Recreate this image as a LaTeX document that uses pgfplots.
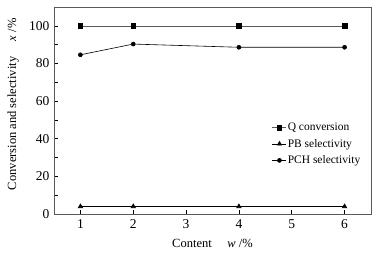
\documentclass[border=0pt]{standalone}
\usepackage{fontspec}
\setmainfont{Liberation Serif}
\usepackage{pgfplots}
\pgfplotsset{compat=1.18}
\begin{document}
\begin{tikzpicture}
\begin{axis}[
  at={(0,0)}, anchor=south west,
  scale only axis,
  width=317pt, height=207pt,
  xmin=0.5, xmax=6.5, ymin=0, ymax=110,
  xtick={1,2,3,4,5,6},
  ytick={0,20,40,60,80,100},
  minor ytick={10,30,50,70,90},
  tick align=inside,
  xtick pos=bottom, ytick pos=left,
  axis line style={gray!70!black, line width=0.6pt},
  major tick style={black, line width=0.5pt},
  minor tick style={black, line width=0.5pt},
  major tick length=4pt, minor tick length=4pt,
  tick label style={font=\fontsize{13.5}{15}\selectfont},
  yticklabel style={xshift=-1pt},
  xticklabel style={yshift=-2pt},
  /pgf/number format/assume math mode=true,
  xlabel={Content\quad\ \textit{w} /\%},
  ylabel={Conversion and selectivity\quad\ \textit{x} /\%},
  label style={font=\fontsize{12.5}{14}\selectfont},
  xlabel style={at={(axis description cs:0.5,-0.14)}, anchor=center},
  ylabel style={at={(axis description cs:-0.129,0.53)}, anchor=center, rotate=0},
  legend style={draw=none, fill=none, at={(0.97,0.445)}, anchor=north east,
    font=\fontsize{11.5}{13}\selectfont, row sep=5pt, inner sep=0pt,
    nodes={inner sep=1pt}},
  legend image code/.code={
    \draw[#1, mark=none] (0pt,0pt) -- (14pt,0pt);
    \draw[#1, only marks] plot coordinates {(7pt,0pt)};
  },
  legend cell align=left,
  every axis plot/.append style={line width=0.6pt},
]
\addplot[gray!70!black, mark=square*, mark size=2.3pt, mark options={black}] coordinates {(1,100) (2,100) (4,100) (6,100)};
\addlegendentry{Q conversion}
\addplot[black, mark=triangle*, mark size=2.5pt] coordinates {(1,4) (2,4) (4,4) (6,4)};
\addlegendentry{PB selectivity}
\addplot[black, mark=*, mark size=2pt] coordinates {(1,84.6) (2,90.3) (4,88.6) (6,88.6)};
\addlegendentry{PCH selectivity}
\end{axis}
\pgfresetboundingbox
\path (-54pt,-40pt) rectangle (324pt,214pt);
\end{tikzpicture}
\end{document}
